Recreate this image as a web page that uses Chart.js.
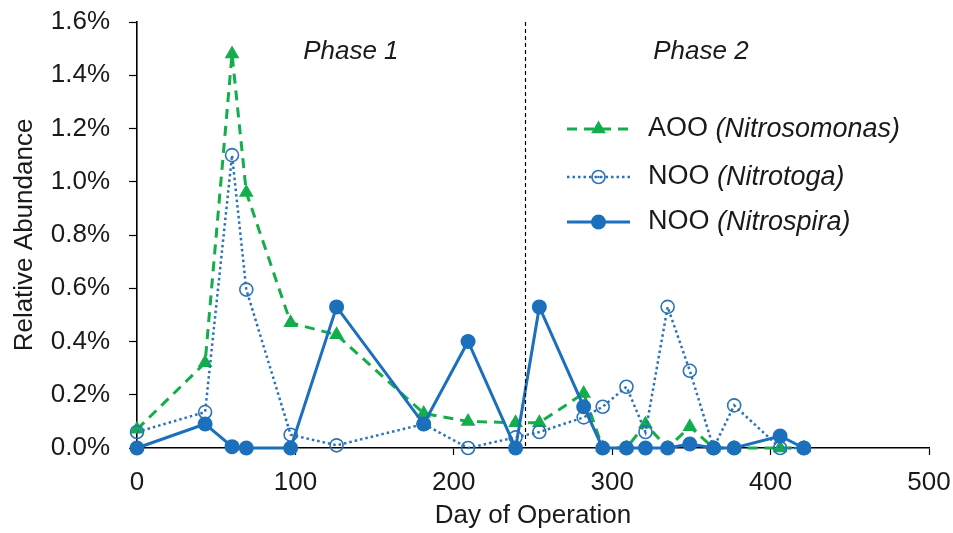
<!DOCTYPE html>
<html>
<head>
<meta charset="utf-8">
<script src="https://cdn.jsdelivr.net/npm/chart.js@4.4.1/dist/chart.umd.min.js"></script>
<style>
  html, body { margin: 0; padding: 0; background: #ffffff; }
  #wrap { width: 953px; height: 533px; position: relative; }
</style>
</head>
<body>
<div id="wrap"><canvas id="c" width="953" height="533"></canvas></div>
<script>
// ---- Data ----
const days = [0, 43, 60, 69, 97, 126, 181, 209, 239, 254, 282, 294, 309, 321, 335, 349, 364, 377, 406, 421];
const aooNitrosomonas = [0.07, 0.32, 1.48, 0.96, 0.47, 0.425, 0.13, 0.10, 0.095, 0.095, 0.205, 0, 0, 0.09, 0, 0.08, 0, 0, 0, 0];
const nooNitrotoga   = [0.06, 0.135, 1.10, 0.595, 0.05, 0.01, 0.09, 0.0, 0.04, 0.06, 0.115, 0.155, 0.23, 0.06, 0.53, 0.29, 0.0, 0.16, 0.0, 0.0];
const nooNitrospira  = [0, 0.09, 0.005, 0, 0, 0.53, 0.09, 0.40, 0, 0.53, 0.155, 0, 0, 0, 0, 0.015, 0, 0, 0.045, 0];
const xTicks = [0, 100, 200, 300, 400, 500];
const yTicks = [0.0, 0.2, 0.4, 0.6, 0.8, 1.0, 1.2, 1.4, 1.6];
const phaseBoundaryDay = 245;
const phaseLabels = ['Phase 1', 'Phase 2'];
const phaseLabelDays = [135, 356];
const legendNames = [['AOO ', '(Nitrosomonas)'], ['NOO ', '(Nitrotoga)'], ['NOO ', '(Nitrospira)']];

const GREEN = '#14ad4c';
const BLUE = '#1b6fbb';
const BLUE2 = '#2a73b8';
const FONT = "'Liberation Sans', Arial, sans-serif";
const TXT = '#1a1a1a';

function pts(ys) { return days.map((d, i) => ({ x: d, y: ys[i] })); }

const styles = {
  aoo: { color: GREEN, dash: [10, 7], width: 3, point: 'triangle', r: 8.5, fill: GREEN },
  toga: { color: BLUE2, dash: [2.5, 3], width: 2.5, point: 'circle', r: 6.5, fill: 'rgba(0,0,0,0)' },
  spira: { color: BLUE, dash: [], width: 3, point: 'circle', r: 7.5, fill: BLUE }
};

function drawMarker(ctx, s, x, y) {
  ctx.save();
  ctx.setLineDash([]);
  ctx.beginPath();
  if (s.point === 'triangle') {
    const r = s.r;
    ctx.moveTo(x, y - r);
    ctx.lineTo(x + r * 0.866, y + r * 0.5);
    ctx.lineTo(x - r * 0.866, y + r * 0.5);
    ctx.closePath();
    ctx.fillStyle = s.fill; ctx.fill();
  } else if (s.fill === 'rgba(0,0,0,0)') {
    ctx.arc(x, y, s.r, 0, Math.PI * 2);
    ctx.lineWidth = 1.6; ctx.strokeStyle = s.color; ctx.stroke();
    ctx.beginPath(); ctx.arc(x, y, 1.3, 0, Math.PI * 2); ctx.fillStyle = s.color; ctx.fill();
  } else {
    ctx.arc(x, y, s.r, 0, Math.PI * 2);
    ctx.fillStyle = s.fill; ctx.fill();
  }
  ctx.restore();
}

const overlayPlugin = {
  id: 'overlay',
  afterDatasetsDraw(chart) {
    const ctx = chart.ctx;
    const xs = chart.scales.x, ca = chart.chartArea;
    // phase boundary
    const bx = Math.round(xs.getPixelForValue(phaseBoundaryDay)) + 0.5;
    ctx.save();
    ctx.strokeStyle = '#000'; ctx.lineWidth = 1.2; ctx.setLineDash([4, 3]);
    ctx.beginPath(); ctx.moveTo(bx, ca.top); ctx.lineTo(bx, ca.bottom); ctx.stroke();
    ctx.restore();
    // phase labels
    ctx.save();
    ctx.fillStyle = TXT; ctx.font = 'italic 26px ' + FONT;
    ctx.textAlign = 'center'; ctx.textBaseline = 'alphabetic';
    phaseLabels.forEach((t, i) => {
      ctx.fillText(t, xs.getPixelForValue(phaseLabelDays[i]), 59);
    });
    ctx.restore();
    // legend
    const order = [styles.aoo, styles.toga, styles.spira];
    const rowsY = [129, 177, 222];
    const x0 = 567, x1 = 630, tx = 648;
    order.forEach((s, i) => {
      const y = rowsY[i];
      ctx.save();
      ctx.strokeStyle = s.color; ctx.lineWidth = s.width; ctx.setLineDash(s.dash);
      ctx.beginPath(); ctx.moveTo(x0, y); ctx.lineTo(x1, y); ctx.stroke();
      ctx.restore();
      drawMarker(ctx, s, (x0 + x1) / 2, y);
      ctx.save();
      ctx.fillStyle = TXT; ctx.textBaseline = 'middle'; ctx.textAlign = 'left';
      ctx.font = '27px ' + FONT;
      ctx.fillText(legendNames[i][0], tx, y);
      const w = ctx.measureText(legendNames[i][0]).width;
      ctx.font = 'italic 27px ' + FONT;
      ctx.fillText(legendNames[i][1], tx + w, y);
      ctx.restore();
    });
  }
};

function ds(label, ys, s) {
  return {
    label, data: pts(ys), showLine: true,
    borderColor: s.color, borderWidth: s.width, borderDash: s.dash,
    pointStyle: s.point, pointRadius: s.r, pointHoverRadius: s.r,
    pointBackgroundColor: s.fill, pointBorderColor: s.color,
    pointBorderWidth: s.fill === 'rgba(0,0,0,0)' ? 1.6 : 0,
    backgroundColor: s.fill, clip: false, tension: 0
  };
}

new Chart(document.getElementById('c'), {
  type: 'scatter',
  data: {
    datasets: [
      ds('NOO (Nitrospira)', nooNitrospira, styles.spira),
      ds('NOO (Nitrotoga)', nooNitrotoga, styles.toga),
      ds('AOO (Nitrosomonas)', aooNitrosomonas, styles.aoo)
    ]
  },
  options: {
    responsive: false, animation: false, devicePixelRatio: 1,
    layout: { padding: { top: 22, right: 24, bottom: 0, left: 5 } },
    plugins: { legend: { display: false }, tooltip: { enabled: false } },
    scales: {
      x: {
        type: 'linear', min: 0, max: 500,
        afterBuildTicks: (sc) => { sc.ticks = xTicks.map(v => ({ value: v })); },
        afterFit: (sc) => { sc.height = 85; sc.paddingLeft = 0; sc.paddingRight = 0; },
        ticks: { color: TXT, font: { family: FONT, size: 26 }, padding: 12, maxRotation: 0 },
        grid: { display: true, drawOnChartArea: false, drawTicks: true, tickLength: 7, tickColor: '#000', tickWidth: 1.2 },
        border: { display: true, color: '#000', width: 1.6 },
        title: { display: true, text: 'Day of Operation', color: TXT, font: { family: FONT, size: 26 }, padding: { top: 1, bottom: 2 } }
      },
      y: {
        type: 'linear', min: 0, max: 1.6,
        afterBuildTicks: (sc) => { sc.ticks = yTicks.map(v => ({ value: v })); },
        afterFit: (sc) => { sc.width = 132; sc.paddingTop = 0; sc.paddingBottom = 0; },
        ticks: { color: TXT, font: { family: FONT, size: 26 }, padding: 19, callback: (v) => Number(v).toFixed(1) + '%' },
        grid: { display: true, drawOnChartArea: false, drawTicks: true, tickLength: 8, tickColor: '#000', tickWidth: 1.2 },
        border: { display: true, color: '#000', width: 1.6 },
        title: { display: true, text: 'Relative Abundance', color: TXT, font: { family: FONT, size: 26 }, padding: { top: 4, bottom: 10 } }
      }
    }
  },
  plugins: [overlayPlugin]
});
</script>
</body>
</html>
